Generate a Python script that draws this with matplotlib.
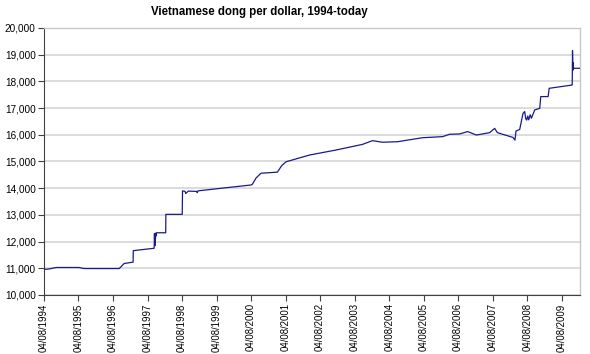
import matplotlib
matplotlib.use("Agg")
import matplotlib.pyplot as plt
import matplotlib.dates as mdates
import matplotlib.ticker as mticker
import pandas as pd

plt.rcParams['font.family'] = ['Liberation Sans', 'DejaVu Sans']

# Exchange rate (VND per USD)
dates = [
    "1994-08-04", "1994-09-20", "1994-12-10", "1995-08-10", "1995-10-01", "1996-10-08",
    "1996-11-30", "1997-03-04", "1997-03-06", "1997-10-13", "1997-10-16", "1997-10-18",
    "1997-10-20", "1997-10-22", "1997-10-24", "1997-10-26", "1997-10-28", "1997-10-30",
    "1997-11-04", "1998-02-12",
    "1998-02-14", "1998-08-06", "1998-08-09", "1998-09-05", "1998-09-12", "1998-10-10",
    "1999-01-05", "1999-01-12", "1999-01-20", "2000-08-04", "2000-08-18", "2000-09-25",
    "2000-11-17",
    "2001-05-09", "2001-06-25", "2001-08-10", "2002-04-13", "2003-01-21", "2003-10-27", "2004-02-10",
    "2004-05-26", "2004-11-01", "2005-07-24", "2006-02-21", "2006-05-06", "2006-08-20",
    "2006-11-13", "2007-02-13", "2007-07-04", "2007-08-26", "2007-09-24", "2008-03-07",
    "2008-03-28", "2008-04-08", "2008-05-17", "2008-06-21", "2008-07-09", "2008-07-20",
    "2008-07-30", "2008-08-10", "2008-08-20", "2008-09-05", "2008-09-18", "2008-10-23",
    "2008-12-15", "2008-12-26", "2009-03-14", "2009-03-25", "2009-11-17", "2009-11-24",
    "2009-11-27", "2009-11-30", "2009-12-02", "2009-12-04", "2009-12-07", "2009-12-09",
    "2010-02-10",
]
rates = [
    10960, 10970, 11030, 11030, 10990, 10990,
    11180, 11230, 11660, 11750, 12300, 11950,
    12280, 11850, 12310, 12050, 12300, 12200,
    12330, 12330,
    13020, 13020, 13900, 13880, 13800, 13890,
    13880, 13830, 13900, 14120, 14150, 14380,
    14560,
    14600, 14850, 14990, 15240, 15430, 15640, 15780,
    15720, 15740, 15890, 15930, 16020, 16030,
    16120, 15990, 16080, 16240, 16080, 15900,
    15800, 16140, 16200, 16800, 16870, 16600,
    16550, 16700, 16560, 16750, 16620, 16930,
    16990, 17430, 17430, 17740, 17860, 17870,
    19150, 18680, 18420, 18700, 18470, 18490,
    18490,
]

year_ticks = [f"{y}-08-04" for y in range(1994, 2010)]

d = pd.to_datetime(dates)

fig = plt.figure(figsize=(5.9, 3.54), dpi=100)
ax = fig.add_axes([0.0746, 0.1667, 0.9084, 0.7543])

ax.plot(d, rates, color="#1a1a8c", linewidth=0.9, zorder=3)

ax.set_ylim(10000, 20000)
ax.set_xlim(pd.Timestamp("1994-08-04"), pd.Timestamp("2010-02-14"))
ax.yaxis.set_major_locator(mticker.MultipleLocator(1000))
ax.yaxis.set_major_formatter(mticker.FuncFormatter(lambda v, p: f"{int(v):,}"))
ax.set_xticks(pd.to_datetime(year_ticks))
ax.xaxis.set_major_formatter(mdates.DateFormatter("%d/%m/%Y"))
for lab in ax.get_xticklabels():
    lab.set_rotation(90)

ax.tick_params(axis='both', direction='out', length=4, width=0.8,
               color="#404040", pad=2)
ax.tick_params(axis='y', labelsize=7.2)
ax.tick_params(axis='x', labelsize=6.9)
ax.grid(axis='y', color="#d9d9d9", linewidth=1.3, zorder=0)
ax.set_axisbelow(True)

for s in ['left', 'bottom']:
    ax.spines[s].set_color("#404040")
    ax.spines[s].set_linewidth(0.8)
for s in ['top', 'right']:
    ax.spines[s].set_color("#c8c8c8")
    ax.spines[s].set_linewidth(1.0)

fig.text(0.44, 0.965, "Vietnamese dong per dollar, 1994-today", ha='center', va='center',
         fontsize=8.3, fontweight='bold')

fig.savefig("out.png", dpi=100)
